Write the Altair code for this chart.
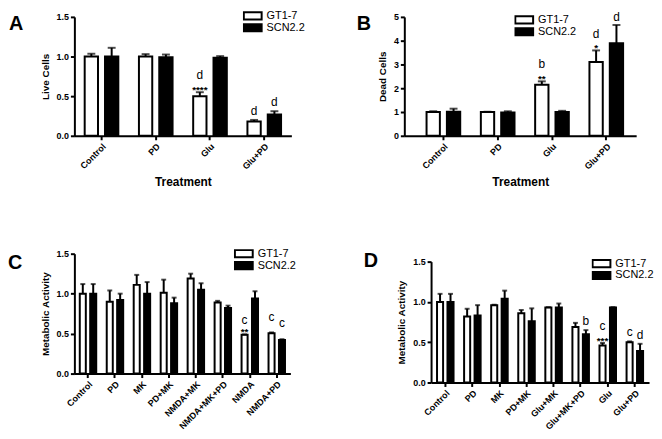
import altair as alt
import pandas as pd

FONT = "Liberation Sans"
SERIES = ["GT1-7", "SCN2.2"]

# ---------------- Panel A : Live Cells ----------------
a_cats = ["Control", "PD", "Glu", "Glu+PD"]
a_gt = [1.00, 1.00, 0.50, 0.18]
a_gt_err = [0.035, 0.03, 0.05, 0.02]
a_scn = [1.00, 0.99, 0.985, 0.27]
a_scn_err = [0.11, 0.035, 0.02, 0.04]
a_gt_star = ["", "", "****", ""]
a_gt_let = ["", "", "d", "d"]
a_scn_star = ["", "", "", ""]
a_scn_let = ["", "", "", "d"]

# ---------------- Panel B : Dead Cells ----------------
b_cats = ["Control", "PD", "Glu", "Glu+PD"]
b_gt = [1.00, 1.00, 2.15, 3.10]
b_gt_err = [0.03, 0.01, 0.14, 0.49]
b_scn = [1.01, 0.98, 1.00, 3.89]
b_scn_err = [0.13, 0.05, 0.05, 0.77]
b_gt_star = ["", "", "**", "*"]
b_gt_let = ["", "", "b", "d"]
b_scn_star = ["", "", "", ""]
b_scn_let = ["", "", "", "d"]

# ---------------- Panel C : Metabolic Activity (NMDA) ----------------
c_cats = ["Control", "PD", "MK", "PD+MK", "NMDA+MK", "NMDA+MK+PD", "NMDA", "NMDA+PD"]
c_gt = [1.00, 0.90, 1.11, 1.01, 1.19, 0.89, 0.485, 0.505]
c_gt_err = [0.12, 0.14, 0.125, 0.165, 0.06, 0.02, 0.005, 0.01]
c_scn = [1.00, 0.92, 1.00, 0.88, 1.05, 0.82, 0.94, 0.42]
c_scn_err = [0.12, 0.08, 0.145, 0.07, 0.08, 0.03, 0.09, 0.01]
c_gt_star = ["", "", "", "", "", "", "**", ""]
c_gt_let = ["", "", "", "", "", "", "c", "c"]
c_scn_star = ["", "", "", "", "", "", "", ""]
c_scn_let = ["", "", "", "", "", "", "", "c"]

# ---------------- Panel D : Metabolic Activity (Glu) ----------------
d_cats = ["Control", "PD", "MK", "PD+MK", "Glu+MK", "Glu+MK+PD", "Glu", "Glu+PD"]
d_gt = [1.00, 0.82, 0.96, 0.86, 0.93, 0.69, 0.46, 0.50]
d_gt_err = [0.10, 0.095, 0.005, 0.04, 0.005, 0.05, 0.03, 0.01]
d_scn = [1.00, 0.83, 1.04, 0.76, 0.93, 0.60, 0.93, 0.39]
d_scn_err = [0.10, 0.13, 0.10, 0.16, 0.05, 0.05, 0.005, 0.09]
d_gt_star = ["", "", "", "", "", "", "***", ""]
d_gt_let = ["", "", "", "", "", "", "c", "c"]
d_scn_star = ["", "", "", "", "", "", "", ""]
d_scn_let = ["", "", "", "", "", "b", "", "d"]


def make_df(cats, gt, gt_err, scn, scn_err, gt_star, gt_let, scn_star, scn_let):
    rows = []
    for i, c in enumerate(cats):
        rows.append(dict(cat=c, series=SERIES[0], value=gt[i], err=gt_err[i],
                         star=gt_star[i], letter=gt_let[i]))
        rows.append(dict(cat=c, series=SERIES[1], value=scn[i], err=scn_err[i],
                         star=scn_star[i], letter=scn_let[i]))
    df = pd.DataFrame(rows)
    df["top"] = df["value"] + df["err"]
    return df


def panel(df, cats, letter, ytitle, ymax, yticks, yfmt, xtitle, width, height,
          pi, po, align, sub_pad, cap, legx, legy, let_x, let_y,
          let_dy_nostar, let_dy_star):
    x = alt.X("cat:N", sort=cats,
              scale=alt.Scale(paddingInner=pi, paddingOuter=po, align=align),
              axis=alt.Axis(title=xtitle, labelAngle=-45, titleFontSize=12,
                            titlePadding=6, labelPadding=2))
    xo = alt.XOffset("series:N", sort=SERIES, scale=alt.Scale(paddingInner=sub_pad))
    yscale = alt.Scale(domain=[0, ymax], nice=False, zero=True)
    yaxis = alt.Axis(title=ytitle, values=yticks, format=yfmt, titlePadding=6)
    base = alt.Chart(df)
    bars = base.mark_bar(stroke="black", strokeWidth=2).encode(
        x=x, xOffset=xo,
        y=alt.Y("value:Q", scale=yscale, axis=yaxis),
        fill=alt.Fill("series:N", sort=SERIES,
                      scale=alt.Scale(domain=SERIES, range=["white", "black"]),
                      legend=alt.Legend(title=None, orient="none", legendX=legx, legendY=legy,
                                        symbolType="M-1,-0.4H1V0.4H-1Z",
                                        symbolSize=324, symbolStrokeColor="black",
                                        symbolStrokeWidth=2, labelFont=FONT,
                                        labelFontSize=11, labelColor="black",
                                        labelOffset=4, rowPadding=0, clipHeight=12,
                                        padding=0)),
    )
    err = base.mark_rule(color="black", strokeWidth=2).encode(
        x=x, xOffset=xo, y=alt.Y("value:Q", scale=yscale, axis=yaxis), y2="top:Q")
    caps = base.mark_tick(color="black", thickness=2, size=cap).encode(
        x=x, xOffset=xo, y=alt.Y("top:Q", scale=yscale, axis=yaxis))
    stars = base.transform_filter("datum.star != ''").mark_text(
        font=FONT, fontSize=10, fontWeight="bold", color="black", dy=1,
        baseline="alphabetic").encode(
        x=x, xOffset=xo, y=alt.Y("top:Q", scale=yscale, axis=yaxis), text="star:N")
    let1 = base.transform_filter("datum.letter != '' && datum.star == ''").mark_text(
        font=FONT, fontSize=12, color="black", dy=let_dy_nostar,
        baseline="alphabetic").encode(
        x=x, xOffset=xo, y=alt.Y("top:Q", scale=yscale, axis=yaxis), text="letter:N")
    let2 = base.transform_filter("datum.letter != '' && datum.star != ''").mark_text(
        font=FONT, fontSize=12, color="black", dy=let_dy_star,
        baseline="alphabetic").encode(
        x=x, xOffset=xo, y=alt.Y("top:Q", scale=yscale, axis=yaxis), text="letter:N")
    tag = alt.Chart(pd.DataFrame({"panel": [letter]})).mark_text(
        font=FONT, fontSize=20, fontWeight="bold", color="black",
        align="left", baseline="top").encode(
        x=alt.value(let_x), y=alt.value(let_y), text="panel:N")
    return alt.layer(bars, err, caps, stars, let1, let2, tag).properties(
        width=width, height=height)


dfa = make_df(a_cats, a_gt, a_gt_err, a_scn, a_scn_err, a_gt_star, a_gt_let, a_scn_star, a_scn_let)
dfb = make_df(b_cats, b_gt, b_gt_err, b_scn, b_scn_err, b_gt_star, b_gt_let, b_scn_star, b_scn_let)
dfc = make_df(c_cats, c_gt, c_gt_err, c_scn, c_scn_err, c_gt_star, c_gt_let, c_scn_star, c_scn_let)
dfd = make_df(d_cats, d_gt, d_gt_err, d_scn, d_scn_err, d_gt_star, d_gt_let, d_scn_star, d_scn_let)

pa = panel(dfa, a_cats, "A", "Live Cells", 1.5, [0, 0.5, 1.0, 1.5], ".1f", "Treatment",
           219, 120, 0.38, 0.19, 0.5, 0.345, 8, 170, -7, -66, -3, -5, -13)
pb = panel(dfb, b_cats, "B", "Dead Cells", 5, [0, 1, 2, 3, 4, 5], "d", "Treatment",
           234, 120, 0.38, 0.325, 0.63, 0.345, 8, 111, -3, -48, -3, -4, -13)
pc = panel(dfc, c_cats, "C", "Metabolic Activity", 1.5, [0, 0.5, 1.0, 1.5], ".1f", None,
           218, 121, 0.39, 0.2, 0.5, 0.42, 5, 161, -6, -67, -1, -12, -11)
pd_ = panel(dfd, d_cats, "D", "Metabolic Activity", 1.5, [0, 0.5, 1.0, 1.5], ".1f", None,
            220, 122, 0.39, 0.22, 0.5, 0.42, 5, 162, -4, -68, -11, -5, -13)

RES = dict(x="independent", y="independent", xOffset="independent", fill="independent")

# an empty 1px view above panel D, so that D sits a little lower than C
spacer = alt.Chart(pd.DataFrame({"gap": [0]})).mark_point(opacity=0, size=0).properties(
    width=1, height=1)
col_d = alt.vconcat(spacer, pd_, spacing=-4).resolve_scale(**RES).resolve_legend(
    fill="independent")

row1 = alt.hconcat(pa, pb, spacing=52).resolve_scale(**RES).resolve_legend(fill="independent")
row2 = alt.hconcat(pc, col_d, spacing=68).resolve_scale(**RES).resolve_legend(
    fill="independent")

chart = alt.vconcat(row1, row2, spacing=60).resolve_scale(**RES).resolve_legend(
    fill="independent").properties(padding=0).configure_view(stroke=None).configure_axis(
    domainColor="black", domainWidth=2, tickColor="black", tickWidth=2, tickSize=4,
    labelFont=FONT, labelFontWeight="bold", labelFontSize=9, labelColor="black",
    titleFont=FONT, titleFontWeight="bold", titleFontSize=10, titleColor="black",
    grid=False)

chart.save("out.html", embed_options={"renderer": "svg", "actions": False})
